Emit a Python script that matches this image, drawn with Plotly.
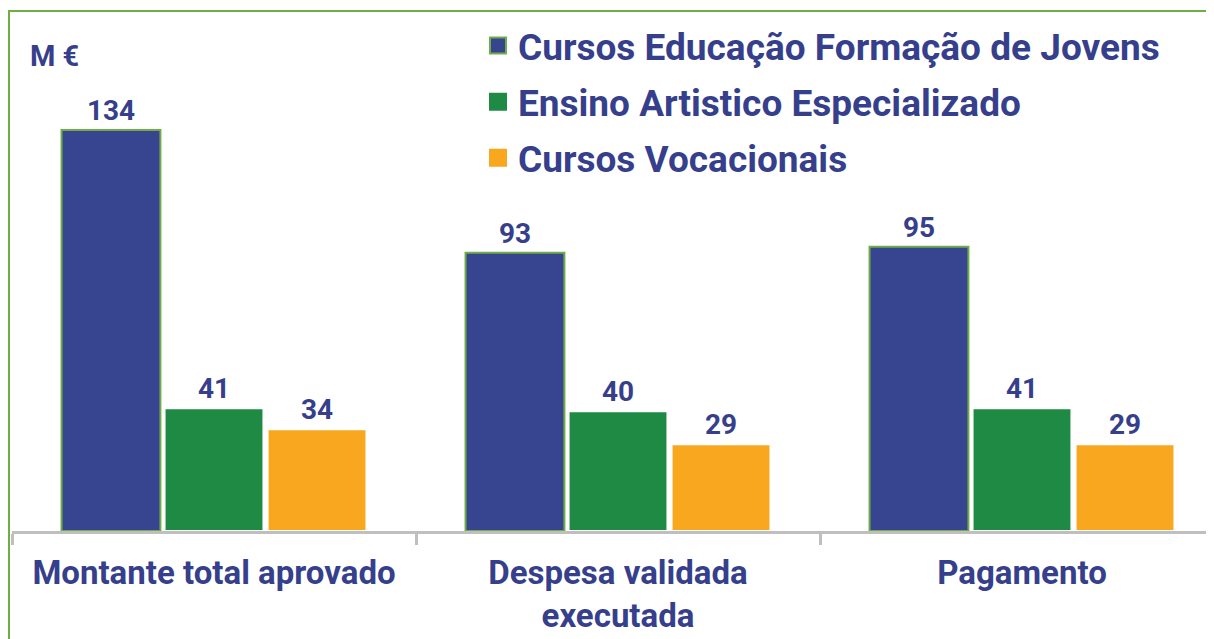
import plotly.graph_objects as go

categories = ["Montante total aprovado", "Despesa validada<br>executada", "Pagamento"]
series_names = ["Cursos Educação Formação de Jovens", "Ensino Artistico Especializado", "Cursos Vocacionais"]
cefj = [134, 93, 95]
eae = [41, 40, 41]
cv = [34, 29, 29]
unit_label = "M €"

colors = ["#374590", "#1F8A44", "#F9A71E"]
outline = ["#70AD47", "#FFFFFF", "#FFFFFF"]
text_color = "#363F8C"
FONT = "Roboto"

# page body has an 8px default margin; figure coordinates are page - 8
OFF = 8
W, H = 1214, 639
ML, MR = 12 - OFF, 0
MT = 20 - OFF
base_y = 531 - OFF
MB = H - base_y
pw, ph = W - ML - MR, H - MT - MB
px_per_unit = 2.993

fig = go.Figure()
for name, vals, c, oc in zip(series_names, [cefj, eae, cv], colors, outline):
    fig.add_trace(go.Bar(
        x=categories, y=vals, name=name, showlegend=False,
        marker=dict(color=c, line=dict(color=oc, width=2)),
        text=[str(v) for v in vals], textposition="outside",
        textfont=dict(family=FONT, size=28, color=text_color, weight="bold"),
        cliponaxis=False,
    ))
for i, (name, c, oc) in enumerate(zip(series_names, colors, outline)):
    fig.add_trace(go.Scatter(
        x=[None], y=[None], mode="markers", name=name, legendgroup=f"g{i}",
        marker=dict(symbol="square", size=16, color=c,
                    line=dict(color=oc if i == 0 else c, width=2)),
    ))

units_per_px = 1 / 404.0
fig.update_layout(
    width=W, height=H,
    margin=dict(l=ML, r=MR, t=MT, b=MB, autoexpand=False),
    paper_bgcolor="white", plot_bgcolor="white",
    barmode="group", bargap=0.235, bargroupgap=0.04,
    font=dict(family=FONT, color=text_color),
    legend=dict(
        x=(470 - ML) / pw, xanchor="left", y=1 + (MT - 7) / ph, yanchor="top",
        font=dict(family=FONT, size=37, color=text_color, weight="bold"),
        tracegroupgap=5, bgcolor="rgba(0,0,0,0)", itemsizing="trace",
    ),
    xaxis=dict(
        type="category",
        range=[-0.5, -0.5 + pw * units_per_px],
        showline=True, linecolor="#BFBFBF", linewidth=3,
        ticks="outside", tickson="boundaries", ticklen=11, tickwidth=3, tickcolor="#BFBFBF",
        tickfont=dict(family=FONT, size=33, color=text_color, weight="bold"),
        showgrid=False, zeroline=False, ticklabelstandoff=10,
    ),
    yaxis=dict(range=[0, ph / px_per_unit], visible=False, showgrid=False),
    annotations=[dict(
        text=unit_label, xref="paper", yref="paper",
        x=(28 - OFF - ML) / pw, y=(base_y - (56 - OFF)) / ph, xanchor="left", yanchor="middle",
        showarrow=False, font=dict(family=FONT, size=29, color=text_color, weight="bold"),
    )],
    shapes=[dict(
        type="rect", xref="paper", yref="paper", layer="below",
        x0=(1 - ML) / pw, x1=1.05, y0=-0.5, y1=(base_y - (11 - OFF)) / ph,
        line=dict(color="#70AD47", width=2), fillcolor="rgba(0,0,0,0)",
    )],
)

fig.write_html("out.html")
